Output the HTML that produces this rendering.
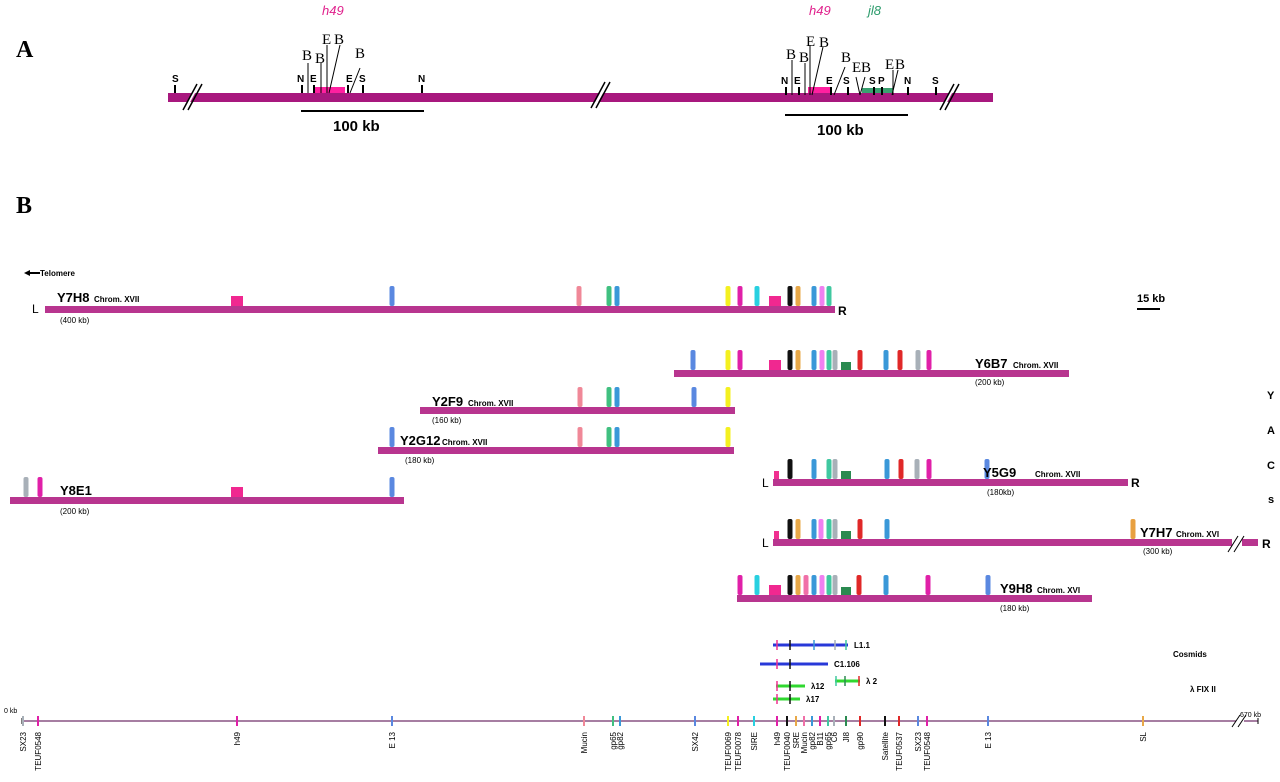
<!DOCTYPE html>
<html><head><meta charset="utf-8"><style>
html,body{margin:0;padding:0;background:#fff}
svg{display:block;font-family:"Liberation Sans",sans-serif}
</style></head><body>
<svg id="fig" width="1280" height="782" viewBox="0 0 1280 782" xmlns="http://www.w3.org/2000/svg">
<g id="panelA">
<text x="16" y="57" font-family="Liberation Serif,serif" font-weight="bold" font-size="24">A</text>
<text x="322" y="15" fill="#e0208c" font-style="italic" font-size="13">h49</text>
<text x="809" y="15" fill="#e0208c" font-style="italic" font-size="13">h49</text>
<text x="868" y="15" fill="#2a9a6a" font-style="italic" font-size="13">jl8</text>
<rect x="168" y="93" width="825" height="9" fill="#a8187e"/>
<rect x="315" y="87" width="30" height="6" fill="#ff20a0"/>
<rect x="808" y="87" width="22" height="6" fill="#ff20a0"/>
<rect x="862" y="88" width="31" height="5" fill="#3aa070"/>
<g stroke="#000" stroke-width="2">
<line x1="175" y1="85" x2="175" y2="93"/><line x1="302" y1="85" x2="302" y2="93"/><line x1="314" y1="85" x2="314" y2="93"/>
<line x1="363" y1="85" x2="363" y2="93"/><line x1="422" y1="85" x2="422" y2="93"/><line x1="348" y1="85" x2="348" y2="93"/>
<line x1="786" y1="87" x2="786" y2="95"/><line x1="799" y1="87" x2="799" y2="95"/><line x1="831" y1="87" x2="831" y2="95"/>
<line x1="848" y1="87" x2="848" y2="95"/><line x1="874" y1="87" x2="874" y2="95"/><line x1="882" y1="87" x2="882" y2="95"/>
<line x1="908" y1="87" x2="908" y2="95"/><line x1="936" y1="87" x2="936" y2="95"/>
</g>
<g stroke="#000" stroke-width="1">
<line x1="308" y1="63" x2="308" y2="93"/><line x1="321" y1="63" x2="321" y2="93"/><line x1="327" y1="45" x2="327" y2="93"/><line x1="340" y1="45" x2="329" y2="93"/><line x1="360" y1="68" x2="350" y2="93"/>
<line x1="792" y1="60" x2="792" y2="95"/><line x1="805" y1="63" x2="805" y2="95"/><line x1="810" y1="45" x2="810" y2="95"/><line x1="823" y1="47" x2="812" y2="95"/><line x1="845" y1="67" x2="834" y2="95"/>
<line x1="856" y1="77" x2="860" y2="95"/><line x1="865" y1="77" x2="860" y2="95"/><line x1="898" y1="70" x2="892" y2="95"/><line x1="893" y1="70" x2="893" y2="95"/>
</g>
<g font-size="10" font-weight="bold">
<text x="172" y="82">S</text><text x="297" y="82">N</text><text x="310" y="82">E</text><text x="346" y="82">E</text><text x="359" y="82">S</text><text x="418" y="82">N</text>
<text x="781" y="84">N</text><text x="794" y="84">E</text><text x="826" y="84">E</text><text x="843" y="84">S</text><text x="869" y="84">S</text><text x="878" y="84">P</text><text x="904" y="84">N</text><text x="932" y="84">S</text>
</g>
<g font-size="15" font-family="Liberation Serif,serif">
<text x="302" y="60">B</text><text x="315" y="63">B</text><text x="322" y="44">E</text><text x="334" y="44">B</text><text x="355" y="58">B</text>
<text x="786" y="59">B</text><text x="799" y="62">B</text><text x="806" y="46">E</text><text x="819" y="47">B</text><text x="841" y="62">B</text>
<text x="852" y="72">E</text><text x="861" y="72">B</text><text x="885" y="69">E</text><text x="895" y="69">B</text>
</g>
<g stroke="#000" stroke-width="1.5">
<polygon points="185,106 197,84 200,84 188,106" fill="#fff" stroke="none"/>
<line x1="183" y1="110" x2="197" y2="84"/><line x1="188" y1="110" x2="202" y2="84"/>
<polygon points="593,106 605,84 608,84 596,106" fill="#fff" stroke="none"/>
<line x1="591" y1="108" x2="605" y2="82"/><line x1="596" y1="108" x2="610" y2="82"/>
<polygon points="942,106 954,84 957,84 945,106" fill="#fff" stroke="none"/>
<line x1="940" y1="110" x2="954" y2="84"/><line x1="945" y1="110" x2="959" y2="84"/>
</g>
<g stroke="#000" stroke-width="2">
<line x1="301" y1="111" x2="424" y2="111"/><line x1="785" y1="115" x2="908" y2="115"/>
</g>
<text x="333" y="131" font-size="15" font-weight="bold">100 kb</text>
<text x="817" y="135" font-size="15" font-weight="bold">100 kb</text>
</g>
<text x="16" y="213" font-family="Liberation Serif,serif" font-weight="bold" font-size="24">B</text>
<g>
<line x1="28" y1="273" x2="40" y2="273" stroke="#000" stroke-width="2"/><polygon points="24,273 30,270 30,276" fill="#000"/>
<text x="40" y="276" font-size="8" font-weight="bold">Telomere</text>
</g>
<g><text x="1137" y="302" font-size="11" font-weight="bold">15 kb</text><line x1="1137" y1="309" x2="1160" y2="309" stroke="#000" stroke-width="2"/></g>
<g font-size="11" font-weight="bold">
<text x="1267" y="399">Y</text><text x="1267" y="434">A</text><text x="1267" y="469">C</text><text x="1268" y="503">s</text>
</g>
<g id="yacs"></g>
<g id="clones"></g>
<g id="axis"></g>
</svg>
<script>
const COLORS={M:'#e020a8',P:'#f08898',G:'#40c080',B:'#3a98d8',Y:'#f4f020',C:'#28d0e0',K:'#111111',O:'#e8a848',T:'#40c8a0',R:'#a8b0b8',S:'#2a8a50',D:'#e02828',H:'#f02890',E:'#5a88e0',L:'#f03090',N:'#f070a8',A:'#e8a040',V:'#f080f0'};
const yacNames=['Y7H8','Y6B7','Y2F9','Y2G12','Y5G9','Y8E1','Y7H7','Y9H8'];
const yacChrom=['Chrom. XVII','Chrom. XVII','Chrom. XVII','Chrom. XVII','Chrom. XVII','','Chrom. XVI','Chrom. XVI'];
const yacSize=['(400 kb)','(200 kb)','(160 kb)','(180 kb)','(180kb)','(200 kb)','(300 kb)','(180 kb)'];
const yacStart=[17.5,332,205,184,381.5,0,381.5,363.5];
const yacEnd=[412.5,529.5,362.5,362,559,197,624,541];
const yacMarkPos=[
 [113.5,191,284.5,299.5,303.5,359,365,373.5,382.5,390,394,402,406,409.5],
 [341.5,359,365,382.5,390,394,402,406,409.5,412.5,418,425,438,445,454,459.5],
 [285,299.5,303.5,342,359],
 [191,285,299.5,303.5,359],
 [383.5,390,402,409.5,412.5,418,438.5,445.5,453.5,459.5,488.5],
 [8,15,113.5,191],
 [383.5,390,394,402,405.5,409.5,412.5,418,425,438.5,561.5],
 [365,373.5,382.5,390,394,398,402,406,409.5,412.5,418,424.5,438,459,489]
];
const yacMarkType=[
 ['H','E','P','G','B','Y','M','C','H','K','O','B','V','T'],
 ['E','Y','M','H','K','O','B','V','T','R','S','D','B','D','R','M'],
 ['P','G','B','E','Y'],
 ['E','P','G','B','Y'],
 ['L','K','B','T','R','S','B','D','R','M','E'],
 ['R','M','H','E'],
 ['L','K','O','B','V','T','R','S','D','B','A'],
 ['M','C','H','K','O','N','B','V','T','R','S','D','B','M','E']
];
const yacRowY=[306,370,407,447,479,497,539,595];
const cloneNames=['L1.1','C1.106','\u03bb 2','\u03bb12','\u03bb17'];
const cloneStart=[381.5,375,412.5,383,381.5];
const cloneEnd=[419,409,425,397.5,395];
const cloneTicks=[[383.5,390,402,412.5,418],[383.5,390],[413,417.5,424.5],[383.5,390],[383.5,390]];
const cloneTickType=[['L','K','B','R','T'],['L','K'],['T','S','D'],['L','K'],['L','K']];
const cloneRowY=[645,664,681,686,699];
const cloneColor=['#2838d8','#2838d8','#30d830','#30d830','#30d830'];
const axisNames=['SX23','TEUF0548','h49','E 13','Mucin','gp65','gp82','SX42','TEUF0069','TEUF0078','SIRE','h49','TEUF0040','SRE','Mucin','gp82','B11','gp65','C6','Jl8','gp90','Satellite','TEUF0537','SX23','TEUF0548','E 13','SL'];
const axisPos=[6.5,14,113.5,191,287,301.5,305,342.5,359,364,372,383.5,388.5,393,397,401,405,409,412,418,425,437.5,444.5,454,458.5,489,566.5];
const axisType=['R','M','M','E','P','G','B','E','Y','M','C','M','K','O','N','B','M','T','R','S','D','K','D','E','M','E','O'];

const NS='http://www.w3.org/2000/svg';
function xScale(u){return 10+u*2;}
function mk(tag,attrs,parent){const e=document.createElementNS(NS,tag);for(const k in attrs)e.setAttribute(k,attrs[k]);parent.appendChild(e);return e;}
const yacG=document.getElementById('yacs');
yacNames.forEach((n,i)=>{
  const g=mk('g',{},yacG);
  
  
  const y=yacRowY[i];
  const x0=xScale(yacStart[i]),x1=xScale(yacEnd[i]);
  const bar=mk('rect',{x:x0,y:y,width:x1-x0,height:7,fill:'#b8358f'},g);
  
  
  yacMarkPos[i].forEach((p,j)=>{
    const t=yacMarkType[i][j];const x=xScale(p);
    let r;
    if(t==='H') r=mk('rect',{x:x-6,y:y-10,width:12,height:10,fill:COLORS[t]},g);
    else if(t==='S') r=mk('rect',{x:x-5,y:y-8,width:10,height:8,fill:COLORS[t]},g);
    else if(t==='L') r=mk('rect',{x:x-3,y:y-8,width:5,height:8,fill:COLORS[t]},g);
    else r=mk('rect',{x:x-2.5,y:y-20,width:5,height:20,rx:2,fill:COLORS[t]},g);
    
    
  });
});
const lab=[[57,302,94,'60,323',32,313,838,315],[975,368,1013,'975,385',0,0,0,0],[432,406,468,'432,423',0,0,0,0],[400,445,442,'405,463',0,0,0,0],[983,477,1035,'987,495',762,487,1131,487],[60,495,0,'60,514',0,0,0,0],[1140,537,1176,'1143,554',762,547,1262,548],[1000,593,1037,'1000,611',0,0,0,0]];
lab.forEach((l,i)=>{
  const t=mk('text',{x:l[0],y:l[1],'font-size':13,'font-weight':'bold'},yacG);t.textContent=yacNames[i];
  
  
  if(yacChrom[i]){const c=mk('text',{x:l[2],y:l[1],'font-size':8,'font-weight':'bold'},yacG);c.textContent=yacChrom[i];
  
  }
  const p=l[3].split(',');const s=mk('text',{x:p[0],y:p[1],'font-size':8},yacG);s.textContent=yacSize[i];
  
  
  if(l[4]){const L=mk('text',{x:l[4],y:l[5],'font-size':12},yacG);L.textContent='L';
  
  }
  if(l[6]){const R=mk('text',{x:l[6],y:l[7],'font-size':12,'font-weight':'bold'},yacG);R.textContent='R';
  
  }
});
mk('rect',{x:1232,y:536,width:10,height:14,fill:'#fff'},yacG);
mk('line',{x1:1228,y1:552,x2:1238,y2:536,stroke:'#000'},yacG);
mk('line',{x1:1234,y1:552,x2:1244,y2:536,stroke:'#000'},yacG);
const cg=document.getElementById('clones');
cloneNames.forEach((n,i)=>{
  const g=mk('g',{},cg);
  
  
  const y=cloneRowY[i];const x0=xScale(cloneStart[i]),x1=xScale(cloneEnd[i]);
  mk('line',{x1:x0,y1:y,x2:x1,y2:y,stroke:cloneColor[i],'stroke-width':3},g);
  cloneTicks[i].forEach((p,j)=>{const t=mk('line',{x1:xScale(p),y1:y-5,x2:xScale(p),y2:y+5,stroke:COLORS[cloneTickType[i][j]],'stroke-width':1.5},g);
    
    });
  const tx=mk('text',{x:x1+6,y:y+3,'font-size':8,'font-weight':'bold'},g);tx.textContent=n;
});
const c1=mk('text',{x:1173,y:657,'font-size':8,'font-weight':'bold'},cg);c1.textContent='Cosmids';


const c2=mk('text',{x:1190,y:692,'font-size':8,'font-weight':'bold'},cg);c2.textContent='\u03bb FIX II';


const ag=document.getElementById('axis');
mk('line',{x1:22,y1:721,x2:1258,y2:721,stroke:'#70306a','stroke-width':1.2},ag);
mk('line',{x1:22,y1:718,x2:22,y2:724,stroke:'#000'},ag);
mk('line',{x1:1258,y1:718,x2:1258,y2:724,stroke:'#000'},ag);
mk('rect',{x:1236,y:716,width:8,height:10,fill:'#fff'},ag);
mk('line',{x1:1232,y1:727,x2:1240,y2:715,stroke:'#000'},ag);
mk('line',{x1:1238,y1:727,x2:1246,y2:715,stroke:'#000'},ag);
const z=mk('text',{x:4,y:713,'font-size':7},ag);z.textContent='0 kb';
const e=mk('text',{x:1240,y:717,'font-size':7},ag);e.textContent='670 kb';
axisNames.forEach((n,i)=>{
  const x=xScale(axisPos[i]);
  const t=mk('line',{x1:x,y1:716,x2:x,y2:726,stroke:COLORS[axisType[i]],'stroke-width':2},ag);
  
  
  const l=mk('text',{x:0,y:0,'font-size':8,'text-anchor':'end',transform:`translate(${x+3},${732}) rotate(-90)`},ag);
  l.textContent=n;
  
  
});
</script>
</body></html>
